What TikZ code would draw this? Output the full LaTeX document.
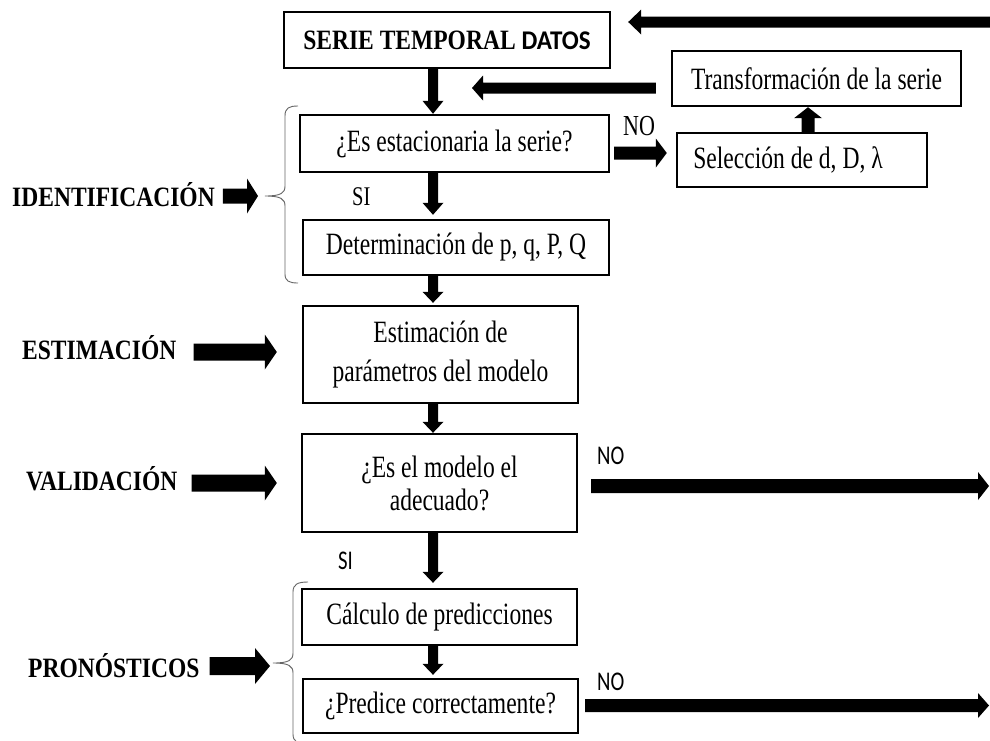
\documentclass[tikz,border=0pt]{standalone}
\usepackage{fontspec}
\setmainfont{Liberation Serif}[FakeStretch=0.76]
\newfontfamily\lblfont{Liberation Serif}[FakeStretch=0.84]
\newfontfamily\sansfont{Carlito}[FakeStretch=0.77]
\newfontfamily\sansbfont{Carlito}[FakeStretch=0.93]
\usetikzlibrary{calc}
% vertical block arrow: start, end, half shaft, half head, signed head length
\newcommand\vblk[5]{\fill let \p1=(#1), \p2=(#2) in (\x1-#3,\y1) -- (\x1-#3,\y2#5) -- (\x1-#4,\y2#5) -- (\x1,\y2) -- (\x1+#4,\y2#5) -- (\x1+#3,\y2#5) -- (\x1+#3,\y1) -- cycle;}
% horizontal block arrow
\newcommand\hblk[5]{\fill let \p1=(#1), \p2=(#2) in (\x1,\y1-#3) -- (\x2#5,\y1-#3) -- (\x2#5,\y1-#4) -- (\x2,\y1) -- (\x2#5,\y1+#4) -- (\x2#5,\y1+#3) -- (\x1,\y1+#3) -- cycle;}
\begin{document}
\begin{tikzpicture}[x=1pt,y=-1pt,
  box/.style={draw,line width=2.4pt,inner sep=0pt,align=center,font=\fontsize{31}{36}\selectfont},
  lbl/.style={inner sep=0pt,anchor=base west,font=\lblfont\bfseries\fontsize{28}{32}\selectfont},
  snt/.style={inner sep=0pt,anchor=base west,font=\sansfont\fontsize{27}{30}\selectfont},
  srt/.style={inner sep=0pt,anchor=base west,font=\fontsize{29}{32}\selectfont},
  brc/.style={draw=black!60,line width=0.9pt}]
\fill[white] (0,0) rectangle (990,740);
\useasboundingbox (0,0) rectangle (990,740);
\clip (0,0) rectangle (990,740);

% boxes
\node[box,minimum width=326pt,minimum height=56pt] (serie) at (447,40)
  {{\lblfont\bfseries\fontsize{28}{32}\selectfont SERIE TEMPORAL }{\sansbfont\bfseries\fontsize{27}{32}\selectfont DATOS}};
\node[box,minimum width=309pt,minimum height=57pt] (esta) at (454.5,143.5) {¿Es estacionaria la serie?};
\node[box,minimum width=250pt,minimum height=54pt] (sel) at (802,160) {Selección de d, D, λ\hspace*{28pt}};
\node[box,minimum width=289pt,minimum height=55pt] (trans) at (816.5,78.5) {Transformación de la serie};
\node[box,minimum width=306pt,minimum height=55pt] (det) at (456,247.5) {Determinación de p, q, P, Q};
\node[box,minimum width=275pt,minimum height=97pt,font=\fontsize{31}{39}\selectfont] (est) at (440.5,354.5) {Estimación de\\parámetros del modelo};
\node[box,minimum width=275pt,minimum height=98pt,font=\fontsize{31}{33}\selectfont] (val) at (439.5,483) {¿Es el modelo el\\adecuado?};
\node[box,minimum width=275pt,minimum height=56pt] (calc) at (439.5,617) {Cálculo de predicciones};
\node[box,minimum width=275pt,minimum height=54pt] (pred) at (440.5,706) {¿Predice correctamente?};

% stage labels
\node[lbl] (identL) at (12,206) {IDENTIFICACIÓN};
\node[lbl] (estL) at (22,359) {ESTIMACIÓN};
\node[lbl] (valL) at (26,490) {VALIDACIÓN};
\node[lbl] (pronL) at (28,677) {PRONÓSTICOS};

% small labels
\node[srt] (noA) at (623,135) {NO};
\node[srt,font=\fontsize{27}{30}\selectfont] (siA) at (352,205) {SI};
\node[snt] (noB) at (597,464) {NO};
\node[snt] (noC) at (597,690) {NO};
\node[snt] (siB) at (338,569) {SI};

% helper coordinates
\coordinate (colx) at (433,0);
\coordinate (upx) at (808,0);
\coordinate (noY) at (0,153);
\coordinate (midY) at (0,88);
\coordinate (retTip) at (472,88);
\coordinate (topR) at (992,22);
\coordinate (valR) at (989,486);
\coordinate (predR) at (989,705.5);
\coordinate (b1tip) at (265,196);
\coordinate (b2tip) at (273,663);
\coordinate (estA) at (0,352);
\coordinate (valA) at (0,483);
\coordinate (pronA) at (0,666);

% main column arrows
\vblk{serie.south -| colx}{esta.north -| colx}{5pt}{10.5pt}{+13pt}
\vblk{esta.south -| colx}{$(det.north -| colx)+(0,-4)$}{5pt}{10.5pt}{+12pt}
\vblk{det.south -| colx}{$(est.north -| colx)+(0,-2)$}{5pt}{10.5pt}{+11pt}
\vblk{est.south -| colx}{val.north -| colx}{5pt}{10.5pt}{+11pt}
\vblk{val.south -| colx}{$(calc.north -| colx)+(0,-5)$}{5pt}{10.5pt}{+11pt}
\vblk{calc.south -| colx}{$(pred.north -| colx)+(0,-3)$}{5pt}{10.5pt}{+11pt}

% loop arrows
\hblk{$(esta.east |- noY)+(4,0)$}{$(sel.west |- noY)+(-9,0)$}{6.5pt}{14.5pt}{-11pt}
\vblk{sel.north -| upx}{trans.south -| upx}{6.5pt}{14pt}{-11pt}
\hblk{$(trans.west |- midY)+(-15,0)$}{retTip}{5.5pt}{12.5pt}{+11pt}
\hblk{topR}{$(serie.east |- topR)+(17,0)$}{5.5pt}{12.5pt}{+13pt}
\hblk{$(val.east |- valR)+(13,0)$}{valR}{7pt}{14pt}{-11pt}
\hblk{$(pred.east |- predR)+(6,0)$}{predR}{6.5pt}{12.5pt}{-11pt}

% stage arrows
\hblk{$(identL.east |- b1tip)+(8,0)$}{$(b1tip)+(-7,0)$}{7.5pt}{17.5pt}{-11pt}
\hblk{$(estL.east |- estA)+(17,0)$}{$(est.west |- estA)+(-25,0)$}{8.5pt}{17.5pt}{-12pt}
\hblk{$(valL.east |- valA)+(14,0)$}{$(val.west |- valA)+(-24,0)$}{8.5pt}{17.5pt}{-12pt}
\hblk{$(pronL.east |- pronA)+(10,0)$}{$(b2tip)+(-3,0)$}{9pt}{18pt}{-15pt}

% braces
\draw[brc] (298,106) .. controls (289,106) and (285,108) .. (285,116) -- (285,186)
  .. controls (285,193) and (281,196) .. (b1tip)
  .. controls (281,196) and (285,199) .. (285,206) -- (285,274)
  .. controls (285,281) and (289,283) .. (298,283);
\draw[brc] (308,582) .. controls (298,582) and (293,584) .. (293,592) -- (293,653)
  .. controls (293,660) and (289,663) .. (b2tip)
  .. controls (289,663) and (293,666) .. (293,673) -- (293,734)
  .. controls (293,742) and (298,744) .. (308,744);
\end{tikzpicture}
\end{document}
